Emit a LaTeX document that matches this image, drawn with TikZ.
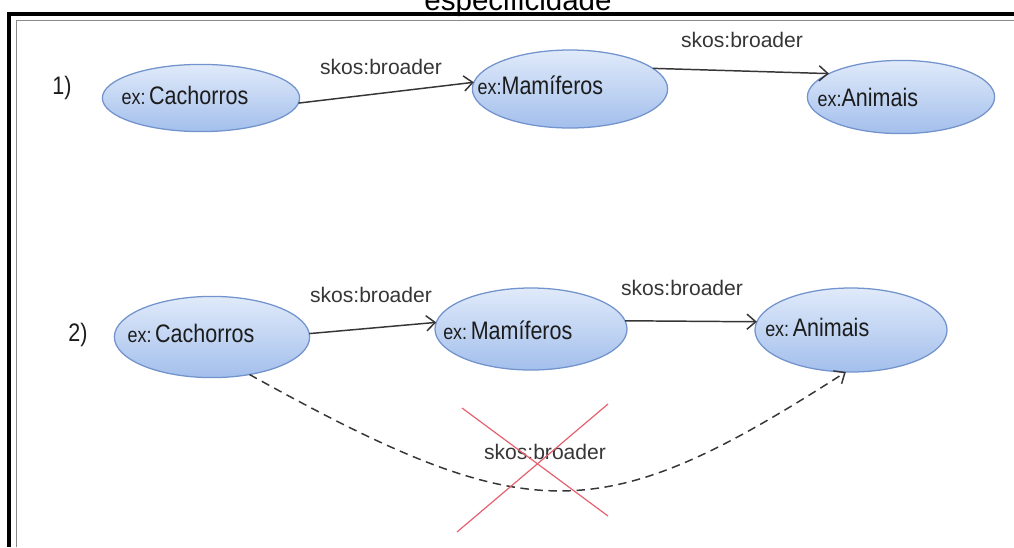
\documentclass[tikz,border=0pt]{standalone}
\usepackage{fontspec}
\setmainfont{Liberation Sans}
\usepackage{graphicx}
\usepackage{tikz}
\usetikzlibrary{arrows.meta,shapes.geometric,calc}
\definecolor{ink}{HTML}{1C1C1C}
\definecolor{inkgray}{HTML}{363636}
\definecolor{rimblue}{HTML}{7293CC}
\definecolor{topblue}{HTML}{E0EAFA}
\definecolor{botblue}{HTML}{A3BFEC}
\definecolor{crossred}{HTML}{E5616F}
\definecolor{framegray}{HTML}{8A8A8A}
\tikzset{
  concept/.style={ellipse,draw=rimblue,line width=0.9pt,
                  top color=topblue,bottom color=botblue,
                  inner sep=0pt,outer sep=0pt},
  nametext/.style={anchor=west,inner sep=0pt,text=ink,
                   font=\fontsize{18}{21}\selectfont},
  relation/.style={inner sep=0pt,text=inkgray,
                   font=\fontsize{15}{18}\selectfont},
  broader/.style={-{Straight Barb[length=2.2mm,width=3.8mm]},line width=1.05pt,color=inkgray},
  inferred/.style={broader,dash pattern=on 6pt off 4pt}
}
% narrow, tall lettering of the concept names
\newcommand{\squeeze}[1]{\scalebox{0.85}[1]{#1}}
\newcommand{\exns}{{\fontsize{15}{18}\selectfont ex:}}

\begin{document}
\begin{tikzpicture}[x=0.025cm,y=-0.025cm]
  \useasboundingbox (0,0) rectangle (1014,547);
  % frame and heading
  \node[font=\fontsize{21}{24}\selectfont,anchor=base] (heading) at (518,10) {especificidade};
  \draw[line width=3pt] (9,547) -- (9,14) -- (1014,14);
  \draw[framegray,line width=1.4pt] (16.5,547) -- (16.5,20.5) -- (1014,20.5);
  % first chain
  \node[nametext,anchor=center] (num1) at (62,88) {\squeeze{1)}};
  \node[concept,minimum width=4.93cm,minimum height=1.68cm] (cach1) at (201,98) {};
  \node[concept,minimum width=4.88cm,minimum height=1.95cm] (mam1) at (570,89) {};
  \node[concept,minimum width=4.68cm,minimum height=1.83cm] (anim1) at (901,97) {};
  \node[nametext] (cach1txt) at ($(cach1.west)+(19,-3)$) {\squeeze{\exns\,Cachorros}};
  \node[nametext] (mam1txt) at ($(mam1.west)+(5,-4)$) {\squeeze{\exns Mamíferos}};
  \node[nametext] (anim1txt) at ($(anim1.west)+(10,0)$) {\squeeze{\exns Animais}};
  \draw[broader] (cach1.-3) -- (mam1.176);
  \draw[broader] (mam1.14) -- (anim1.162);
  \node[relation] (rel1a) at (381,67) {skos:broader};
  \node[relation] (rel1b) at (742,40) {skos:broader};
  % second chain, with the shortcut that is not allowed
  \node[nametext,anchor=center] (num2) at (78,335) {\squeeze{2)}};
  \node[concept,minimum width=4.88cm,minimum height=2.03cm] (cach2) at (212,337) {};
  \node[concept,minimum width=4.8cm,minimum height=2.05cm] (mam2) at (531,329) {};
  \node[concept,minimum width=4.8cm,minimum height=2.1cm] (anim2) at (851,330) {};
  \node[nametext] (cach2txt) at ($(cach2.west)+(13,-4)$) {\squeeze{\exns\,Cachorros}};
  \node[nametext] (mam2txt) at ($(mam2.west)+(8,1)$) {\squeeze{\exns\,Mamíferos}};
  \node[nametext] (anim2txt) at ($(anim2.west)+(10,-3)$) {\squeeze{\exns\,Animais}};
  \draw[broader] (cach2.2) -- (mam2.176);
  \draw[broader] (mam2.5) -- (anim2.175);
  \node[relation] (rel2a) at (371,295) {skos:broader};
  \node[relation] (rel2b) at (682,288) {skos:broader};
  \draw[inferred] (cach2.-45) .. controls (530,530) and (600,530) .. (anim2.-97);
  \node[relation] (rel2c) at (545,452) {skos:broader};
  % cross over the shortcut
  \draw[crossred,line width=0.85pt] (462,408) -- (608,516);
  \draw[crossred,line width=0.85pt] (457,532) -- (608,404);
\end{tikzpicture}
\end{document}
